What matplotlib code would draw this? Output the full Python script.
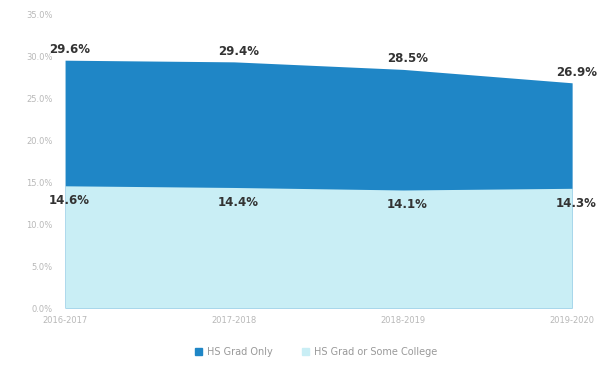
import matplotlib.pyplot as plt
import matplotlib.patches as mpatches

# School years and rates (percent)
years = ["2016-2017", "2017-2018", "2018-2019", "2019-2020"]
hs_grad_only = [29.6, 29.4, 28.5, 26.9]
hs_grad_some_college = [14.6, 14.4, 14.1, 14.3]
yticks = [0, 5, 10, 15, 20, 25, 30, 35]

dark = "#1f86c6"
light = "#c9eef5"

fig = plt.figure(figsize=(6.08, 3.65), dpi=100)
ax = fig.add_axes([0.107, 0.156, 0.834, 0.803])

x = list(range(len(years)))
ax.fill_between(x, 0, hs_grad_only, color=dark, linewidth=0)
ax.fill_between(x, 0, hs_grad_some_college, color=light, linewidth=0)

# value labels, nudged a little to the right of each point
for i, v in enumerate(hs_grad_only):
    ax.annotate(f"{v}%", (i, v), xytext=(3, 3), textcoords="offset points",
                ha="center", va="bottom", fontsize=8.5,
                color="#333333", fontweight="bold")
for i, v in enumerate(hs_grad_some_college):
    ax.annotate(f"{v}%", (i, v), xytext=(3, -6), textcoords="offset points",
                ha="center", va="top", fontsize=8.5,
                color="#333333", fontweight="bold")

ax.set_xlim(0, 3)
ax.set_ylim(0, 35)
ax.set_yticks(yticks)
ax.set_yticklabels([f"{t:.1f}%" for t in yticks], fontsize=6, color="#b8b8b8")
ax.set_xticks(x)
ax.set_xticklabels(years, fontsize=6, color="#b8b8b8")
ax.tick_params(axis="y", length=0, pad=9)
ax.tick_params(axis="x", length=0, pad=6)
for s in ax.spines.values():
    s.set_visible(False)

handles = [mpatches.Patch(color=dark, label="HS Grad Only"),
           mpatches.Patch(color=light, label="HS Grad or Some College")]
leg = fig.legend(handles=handles, loc="center", bbox_to_anchor=(0.52, 0.035),
                 ncol=2, frameon=False, fontsize=7, handlelength=0.7,
                 handleheight=0.7, columnspacing=3, handletextpad=0.5)
for t in leg.get_texts():
    t.set_color("#999999")

fig.savefig("out.png", dpi=100)
